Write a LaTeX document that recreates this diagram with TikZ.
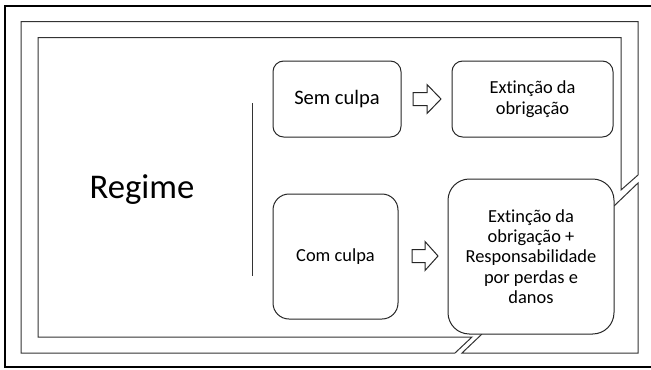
\documentclass[tikz,border=0pt]{standalone}
\usepackage{fontspec}
\setmainfont{Carlito}[Ligatures={NoCommon,NoRare}]
\usetikzlibrary{calc}

\begin{document}
\begin{tikzpicture}[x=0.75pt,y=-0.75pt,
  band/.style={draw=black!80,line width=0.75pt},
  card/.style={draw=black!85,line width=0.75pt,fill=white,rounded corners=#1,align=center,inner sep=1pt},
  card/.default=8pt,
  blockarrow/.style={draw=black!85,line width=0.75pt,fill=white}]
  \useasboundingbox (0,0) rectangle (651,369);
  \draw[line width=1.5pt] (5,6) rectangle (670,367);
  % band round the slide, cut at the callout
  \draw[band] (638,175) -- (638,21.5) -- (21,21.5) -- (21,353) -- (455,353) -- (472,337)
    -- (38,337) -- (38,37.5) -- (621,37.5) -- (621,190) -- cycle;
  \draw[band] (482,334) -- (462,353) -- (638,353) -- (638,183) -- (614,206);

  \node[anchor=base,font=\fontsize{26}{30}\selectfont] (regime) at (142,198) {Regime};
  \coordinate (bartop) at (252,103);
  \coordinate (barbot) at (252,276);
  \draw[band] (bartop) -- (barbot);

  \node[card=8pt,minimum width=96pt,minimum height=57pt,font=\fontsize{15.4}{17}\selectfont] (sem) at (337,99) {Sem culpa};
  \node[card=8pt,minimum width=120.75pt,minimum height=57pt,font=\fontsize{13.8}{15.7}\selectfont] (semres) at (532.5,99) {Extinção da\\obrigação};
  \node[card=12pt,minimum width=93.75pt,minimum height=93.75pt,font=\fontsize{13.8}{15.7}\selectfont] (com) at (335.5,256.5) {Com culpa};
  \node[card=16pt,minimum width=124.5pt,minimum height=116.25pt,font=\fontsize{13.8}{15.2}\selectfont] (comres) at (531,256.5)
    {Extinção da\\obrigação +\\Responsabilidade\\por perdas e\\danos};

  % block arrows between the boxes
  \foreach \y/\a/\b/\c in {99/413/427/441, 256/412/425/438} {
    \draw[blockarrow] (\a,\y-6.5) -- (\b,\y-6.5) -- (\b,\y-14.5) -- (\c,\y) -- (\b,\y+14.5)
      -- (\b,\y+6.5) -- (\a,\y+6.5) -- cycle;
  }
\end{tikzpicture}
\end{document}
